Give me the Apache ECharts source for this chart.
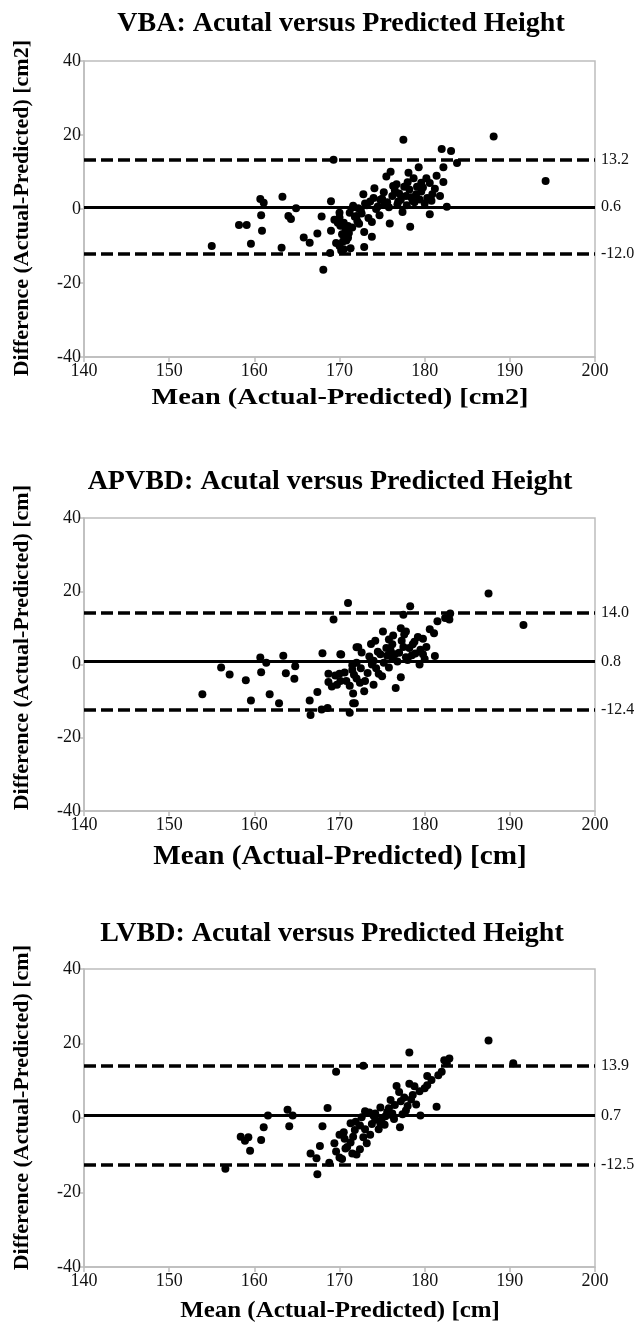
<!doctype html>
<html>
<head>
<meta charset="UTF-8" />
<title>Bland-Altman plots</title>
<style>
  html, body { margin: 0; padding: 0; background: #fff; }
  #chart { width: 639px; height: 1326px; }
</style>
</head>
<body>
<div id="chart"></div>
<script src="https://cdn.jsdelivr.net/npm/echarts@6/dist/echarts.min.js"></script>
<script>
// axis ticks
const xTicks = [140, 150, 160, 170, 180, 190, 200]
const yTicks = [-40, -20, 0, 20, 40]

// VBA panel
const vbaMean = [155.0, 158.2, 159.1, 159.6, 160.7, 161.1, 160.8, 160.9, 163.3, 163.2, 164.0, 164.3, 164.9, 165.8, 166.5, 167.4, 167.9, 168.1, 168.9, 169.0, 169.0, 169.3, 169.4, 169.6, 169.8, 170.0, 170.0, 170.5, 170.5, 170.7, 171.0, 171.1, 171.0, 171.6, 172.0, 172.1,
  170.1, 170.3, 170.2, 170.0, 170.4, 171.8, 171.6, 172.5, 172.8, 172.9, 172.9, 173.8, 173.8, 173.2, 173.6, 174.1, 174.7, 174.5, 175.0, 175.3, 175.5, 175.9, 176.0, 176.2, 176.5, 176.7, 176.9, 177.4, 177.5, 177.8, 178.1, 178.2, 178.3, 178.6, 178.7, 179.0, 179.3, 179.6, 179.6, 180.0, 180.3, 180.6, 180.6, 180.9, 181.4, 182.0, 182.2, 182.2, 182.6, 183.1, 183.8, 188.1, 194.2,
  171.2, 171.5, 172.2, 172.6, 173.0, 173.4, 174.0, 174.3, 174.8, 175.2, 175.6, 175.8, 176.3, 176.8, 177.0, 177.2, 177.6, 177.9, 178.0, 178.4, 178.8, 179.1, 179.4, 179.8, 180.2, 180.8, 181.2, 181.8, 170.8, 171.3, 172.3]
const vbaDiff = [-10.0, -4.3, -4.3, -9.4, 2.7, 1.7, -1.7, -5.9, 3.3, -10.5, -1.9, -2.7, 0.2, -7.7, -9.1, -6.6, -2.0, -16.4, -11.9, 2.1, -5.9, 13.3, -2.9, -9.2, -3.7, -2.3, -10.0, -3.7, -10.9, -5.6, -4.6, -6.5, -7.8, 0.9, -1.9, -3.3,
  -4.5, -6.8, -11.2, -1.0, -8.8, -2.1, 0.5, -0.3, 4.0, -6.2, -10.3, -3.5, -7.5, 1.0, 2.0, 5.6, -1.7, 0.7, 2.8, 1.3, 8.8, -3.9, 10.1, 3.5, 5.0, 6.7, 2.0, -0.8, 18.7, 3.5, 9.8, 5.3, -4.8, 2.2, 8.3, 4.0, 11.3, 7.1, 4.7, 1.5, 3.0, 7.0, -1.4, 4.0, 9.0, 16.2, 11.3, 7.3, 0.6, 15.7, 12.4, 19.6, 7.6,
  -1.0, -5.0, 0.2, -1.2, 1.5, -2.4, 3.0, 0.0, 2.5, 4.5, 1.8, 0.5, 6.2, 1.2, 4.2, 2.5, 6.0, 1.0, 7.2, 3.2, 1.8, 6.0, 2.6, 5.8, 8.3, 2.2, 5.5, 3.5, -8.5, -10.6, -4.0]
const vbaLines = [13.2, 0.6, -12.0]

// APVBD panel
const apMean = [153.9, 156.1, 157.1, 159.0, 159.6, 160.7, 161.4, 160.8, 161.8, 162.9, 163.4, 164.8, 163.7, 164.7, 166.5, 166.6, 167.4, 168.0, 170.1, 168.7, 167.9, 168.6, 171.2, 168.7, 169.1, 169.7, 170.1, 169.5, 170.0, 171.6, 171.6, 172.0, 171.5, 171.7, 172.0, 171.0, 169.3,
  187.5, 191.6, 178.3, 177.5, 182.4, 183.0, 182.9, 181.5, 180.6, 181.1, 175.1, 177.2, 177.8, 176.3, 179.8, 179.2, 178.6, 179.5, 178.2, 177.3, 176.2, 173.7, 172.2, 172.6, 170.2, 181.2, 179.4, 177.2, 176.6, 172.9, 171.8, 172.5, 172.0, 171.5, 170.6, 170.8, 174.0, 173.5, 174.8, 175.6, 176.2, 177.8, 178.5, 177.0, 174.3, 173.3, 175.2, 176.8, 178.0, 176.0, 175.5, 174.5, 173.0, 174.0, 178.9, 180.2, 180.0, 175.8,
  173.8, 174.6, 175.0, 176.5, 177.5, 178.8, 179.8, 174.2, 175.8, 177.6, 172.4, 171.2]
const apDiff = [-8.1, -0.8, -2.7, -4.3, -9.8, 1.9, 0.5, -2.1, -8.1, -10.6, 2.4, -0.5, -2.4, -3.9, -9.8, -13.8, -7.5, 3.1, 2.8, -2.5, -12.3, -11.9, -13.2, -4.8, -6.0, -5.5, -4.5, -3.0, -2.5, -7.9, -10.6, 4.7, -1.5, -2.8, -3.8, 16.8, 12.3,
  19.4, 10.8, 15.9, 13.6, 12.7, 13.9, 12.3, 11.8, 9.6, 8.5, 9.0, 9.9, 9.0, 7.9, 7.0, 7.5, 5.5, 4.0, 4.5, 6.5, 5.5, 5.6, 4.7, 3.3, 2.7, 2.3, 0.0, -3.5, -6.4, -7.3, -10.6, -1.0, 0.5, -0.2, -2.2, -4.5, 1.0, 2.2, 2.8, 2.4, 1.8, 2.0, 2.5, 3.2, -1.0, -2.3, 0.5, 0.8, 1.2, 3.8, 4.5, 3.5, -4.5, -5.5, 3.0, 4.8, 1.5, -0.8,
  0.0, -2.5, -3.2, 2.8, 4.8, 6.2, 2.8, 6.5, 6.8, 8.2, -5.0, -5.8]
const apLines = [14.0, 0.8, -12.4]

// LVBD panel
const lvMean = [169.6, 156.6, 161.6, 161.1, 160.8, 158.4, 159.3, 158.9, 159.5, 163.9, 164.5, 164.1, 168.6, 168.0, 167.7, 166.6, 167.3, 167.4, 168.8, 169.4, 169.6, 170.0, 170.0, 170.5, 170.7, 171.3, 171.6, 171.5,
  187.5, 190.4, 178.2, 172.8, 182.3, 182.9, 182.6, 181.6, 182.0, 180.3, 180.8, 178.2, 178.8, 179.4, 180.0, 180.3, 176.7, 177.0, 177.6, 178.4, 179.0, 181.4, 179.5, 177.1, 173.0, 173.5, 174.2, 174.8, 175.6, 176.2, 177.8, 171.9, 172.4, 173.0, 173.8, 174.8, 175.4, 176.1, 173.2, 172.4, 172.0, 171.3, 170.9, 170.3,
  174.2, 175.0, 175.8, 176.5, 177.2, 176.0, 178.0, 178.6, 177.4, 174.6, 173.6, 172.8, 171.8, 175.3, 176.4, 170.6, 172.6, 174.0]
const lvDiff = [12.4, -13.6, 0.7, -2.5, -5.9, -5.0, -5.2, -6.1, -8.8, 2.2, 0.7, -2.2, 2.7, -2.2, -7.5, -9.5, -10.8, -15.1, -12.0, -6.8, -9.0, -10.6, -4.5, -3.8, -8.2, -1.4, -5.0, -9.5,
  20.8, 14.7, 17.6, 14.0, 15.5, 16.0, 14.7, 11.5, 12.4, 11.3, 10.2, 9.2, 8.5, 7.2, 8.0, 8.8, 8.6, 7.0, 5.5, 5.0, 3.6, 3.0, 0.7, -2.5, 1.8, 1.5, 1.2, 2.8, 1.6, 1.2, 2.0, -1.0, -2.0, -3.0, -1.6, -1.5, 0.5, 0.8, -6.8, -8.4, -9.8, -6.6, -7.8, -11.0,
  -0.5, 0.0, 2.6, 3.5, 4.5, 4.8, 3.2, 6.2, 1.0, -3.0, -4.5, -5.2, -3.2, -1.8, -0.3, -5.6, 0.2, 0.6]
const lvLines = [13.9, 0.7, -12.5]

const titles = ['VBA: Acutal versus Predicted Height', 'APVBD: Acutal versus Predicted Height', 'LVBD: Acutal versus Predicted Height']
const xNames = ['Mean (Actual-Predicted) [cm2]', 'Mean (Actual-Predicted) [cm]', 'Mean (Actual-Predicted) [cm]']
const yNames = ['Difference (Actual-Predicted) [cm2]', 'Difference (Actual-Predicted) [cm]', 'Difference (Actual-Predicted) [cm]']

const serif = 'Liberation Serif'
const grey = '#bdbdbd'

// panel placement
const panels = [
  { top: 61, height: 296, titleX: 341, titleY: 24, xNameY: 398, xNameSize: 24, xNameScale: 1.18, yNameTop: 40, mean: vbaMean, diff: vbaDiff, lines: vbaLines },
  { top: 518, height: 293, titleX: 330, titleY: 482, xNameY: 857, xNameSize: 27, xNameScale: 1.08, yNameTop: 485, mean: apMean, diff: apDiff, lines: apLines },
  { top: 969, height: 298, titleX: 332, titleY: 934, xNameY: 1311, xNameSize: 24, xNameScale: 1.04, yNameTop: 945, mean: lvMean, diff: lvDiff, lines: lvLines }
]

const grids = [], xAxes = [], yAxes = [], series = [], graphics = []
panels.forEach((p, i) => {
  grids.push({ left: 84, top: p.top, width: 511, height: p.height, show: true, borderColor: grey, borderWidth: 1.5 })
  xAxes.push({
    gridIndex: i, type: 'value', min: xTicks[0], max: xTicks[xTicks.length - 1], interval: 10,
    axisLine: { onZero: false, lineStyle: { color: grey, width: 1.5 } },
    axisTick: { length: 5, lineStyle: { color: grey, width: 1.5 } },
    axisLabel: { fontFamily: serif, fontSize: 18, color: '#111', margin: 5 },
    splitLine: { show: false }
  })
  yAxes.push({
    gridIndex: i, type: 'value', min: yTicks[0], max: yTicks[yTicks.length - 1], interval: 20,
    axisLine: { show: true, onZero: false, lineStyle: { color: grey, width: 1.5 } },
    axisTick: { show: true, length: 5, lineStyle: { color: grey, width: 1.5 } },
    axisLabel: { fontFamily: serif, fontSize: 18, color: '#111', margin: 3 },
    splitLine: { show: false }
  })
  const lineLabel = v => ({ show: true, position: 'end', distance: 6, fontFamily: serif, fontSize: 16, color: '#111', formatter: v.toFixed(1) })
  const dashed = { type: [12, 5], width: 3.5, color: '#000' }
  series.push({
    type: 'scatter', xAxisIndex: i, yAxisIndex: i, symbolSize: 8,
    itemStyle: { color: '#000', opacity: 1 },
    data: p.mean.map((m, k) => [m, p.diff[k]]),
    markLine: {
      silent: true, symbol: 'none', animation: false,
      data: [
        { yAxis: p.lines[0], lineStyle: dashed, label: lineLabel(p.lines[0]) },
        { yAxis: p.lines[1], lineStyle: { type: 'solid', width: 3, color: '#000' }, label: lineLabel(p.lines[1]) },
        { yAxis: p.lines[2], lineStyle: dashed, label: lineLabel(p.lines[2]) }
      ]
    }
  })
  graphics.push({
    type: 'text', x: p.titleX, y: p.titleY,
    style: { text: titles[i], font: 'bold 28px "Liberation Serif"', fill: '#000', textAlign: 'center', textVerticalAlign: 'middle' }
  })
  graphics.push({
    type: 'text', x: 340, y: p.xNameY, scaleX: p.xNameScale,
    style: { text: xNames[i], font: 'bold ' + p.xNameSize + 'px "Liberation Serif"', fill: '#000', textAlign: 'center', textVerticalAlign: 'middle' }
  })
  graphics.push({
    type: 'text', x: 22, y: p.yNameTop, rotation: Math.PI / 2,
    style: { text: yNames[i], font: 'bold 22px "Liberation Serif"', fill: '#000', textAlign: 'right', textVerticalAlign: 'middle' }
  })
})

const chart = echarts.init(document.getElementById('chart'))
chart.setOption({
  animation: false,
  grid: grids,
  xAxis: xAxes,
  yAxis: yAxes,
  series: series,
  graphic: graphics
})
</script>
</body>
</html>
